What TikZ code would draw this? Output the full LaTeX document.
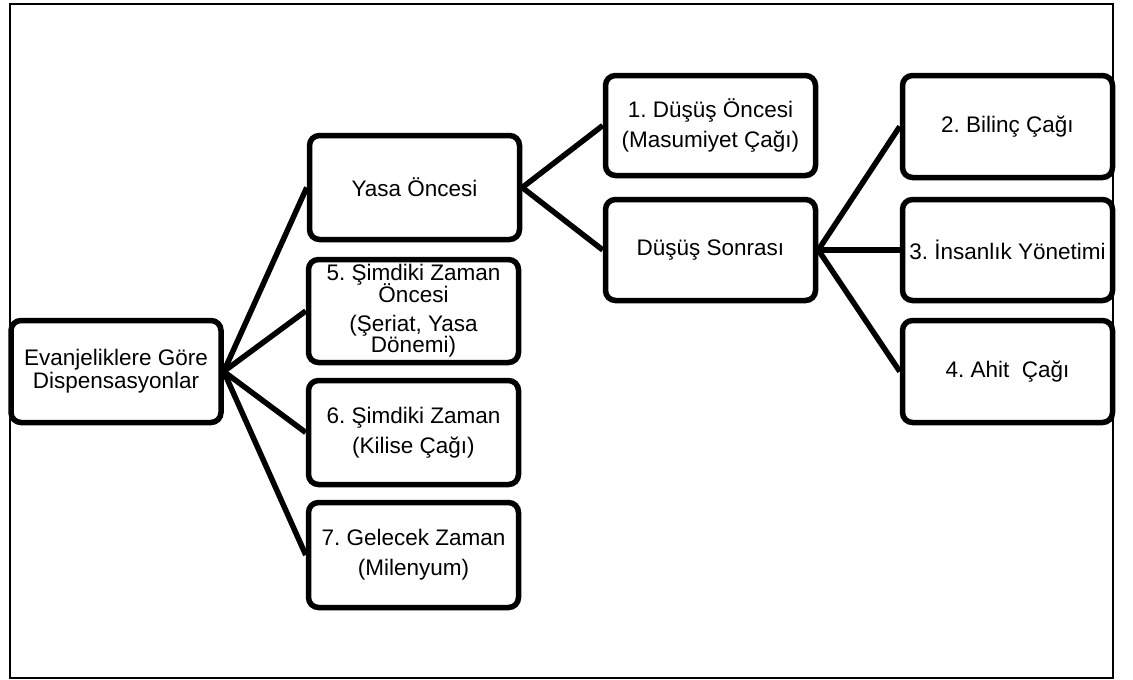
\documentclass[tikz,border=0pt]{standalone}
\usepackage{fontspec}
\setmainfont{Liberation Sans}
\frenchspacing
\begin{document}
\begin{tikzpicture}[x=1pt,y=-1pt,
  box/.style={draw=black, line width=5.5pt, rounded corners=10pt, fill=white,
    minimum width=210pt, minimum height=#1, inner sep=2pt, align=center,
    font=\fontsize{22.5}{25}\selectfont},
  box/.default=103pt,
  link/.style={line width=5.5pt}]
\useasboundingbox (0,0) rectangle (1133,680);
\draw[line width=1.5pt] (10,4) rectangle (1113,678);
\node[box=102pt] (root) at (116,371.5) {Evanjeliklere Göre\\[-2pt]Dispensasyonlar};
\node[box=104pt] (yasa) at (414.5,187.5) {Yasa Öncesi};
\node[box, inner ysep=0pt] (n5) at (413.5,311) {5. Şimdiki Zaman\\[-3pt]Öncesi\\[4pt](Şeriat, Yasa\\[-4pt]Dönemi)\rule[-3pt]{0pt}{0pt}};
\node[box=104pt] (n6) at (413.5,432.5) {6. Şimdiki Zaman\\[5pt](Kilise Çağı)};
\node[box=105pt] (n7) at (413.5,555) {7. Gelecek Zaman\\[5pt](Milenyum)};
\node[box=100pt] (n1) at (710.5,125.5) {1. Düşüş Öncesi\\[5pt](Masumiyet Çağı)};
\node[box=101pt] (ds) at (710.5,250) {Düşüş Sonrası};
\node[box=102pt] (n2) at (1007.5,126.5) {2. Bilinç Çağı};
\node[box=101pt] (n3) at (1007.5,250) {3. İnsanlık Yönetimi};
\node[box=102pt] (n4) at (1007.5,371.5) {4. Ahit\ \ Çağı};
\draw[link] (root.east) -- (yasa.west);
\draw[link] (root.east) -- (n5.west);
\draw[link] (root.east) -- (n6.west);
\draw[link] (root.east) -- (n7.west);
\draw[link] (yasa.east) -- (n1.west);
\draw[link] (yasa.east) -- (ds.west);
\draw[link] (ds.east) -- (n2.west);
\draw[link] (ds.east) -- (n3.west);
\draw[link] (ds.east) -- (n4.west);
\end{tikzpicture}
\end{document}
